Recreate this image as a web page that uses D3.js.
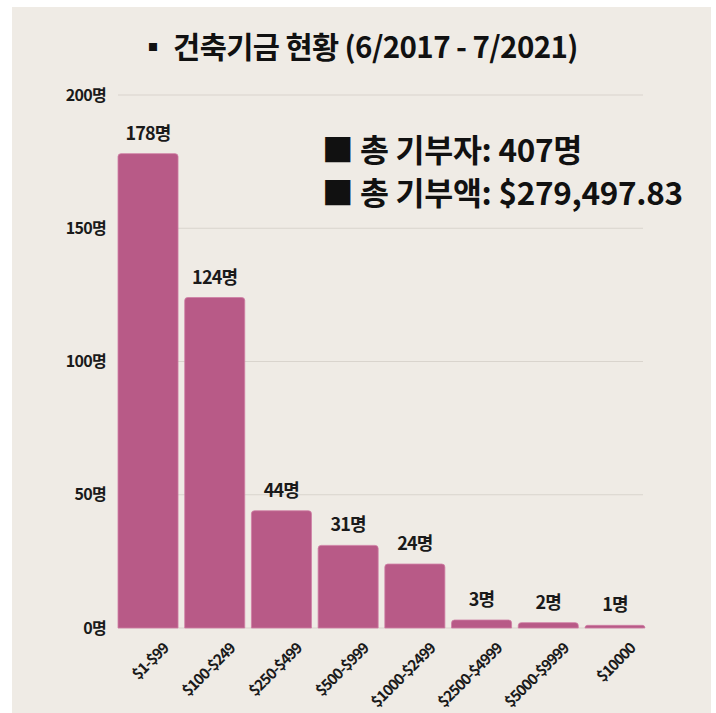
<!DOCTYPE html>
<html>
	<head>
		<meta charset="utf-8">
		<title>건축기금 현황</title>
		<script src="https://d3js.org/d3.v7.min.js" charset="utf-8"></script>
		<style>
			body{
				margin: 0;
				background: white;
				font-family: "Noto Sans CJK KR", "Noto Sans", sans-serif;
				}
		</style>
	</head>
	<body>
		<script>
			// data
			var categories = ["$1-$99", "$100-$249", "$250-$499", "$500-$999", "$1000-$2499", "$2500-$4999", "$5000-$9999", "$10000"];
			var donors = [178, 124, 44, 31, 24, 3, 2, 1];
			var yTicks = [0, 50, 100, 150, 200];
			var summary = ["■ 총 기부자: 407명", "■ 총 기부액: $279,497.83"];
			var title = "▪ 건축기금 현황 (6/2017 - 7/2021)";

			var width = 716;
			var height = 713;
			var barColor = "#b85a87";

			var svg = d3.select("body")
					.append("svg")
					.attr("width", width)
					.attr("height", height);

			// beige panel
			svg.append("rect")
				.attr("x", 12)
				.attr("y", 7)
				.attr("width", 699)
				.attr("height", height - 7)
				.attr("fill", "#efebe5");

			var x = d3.scaleBand()
					.domain(categories)
					.range([116, 647])
					.paddingInner(0.1)
					.paddingOuter(0.03);

			var y = d3.scaleLinear()
					.domain([0, 200])
					.range([628, 95]);

			// gridlines
			svg.append("g")
				.selectAll("line")
				.data(yTicks)
				.enter()
				.append("line")
				.attr("x1", 118)
				.attr("x2", 643)
				.attr("y1", function(d){ return y(d); })
				.attr("y2", function(d){ return y(d); })
				.attr("stroke", "#d9d4cd")
				.attr("stroke-width", 1.2);

			// y axis labels
			var yAxis = d3.axisLeft(y)
					.tickValues(yTicks)
					.tickSize(0)
					.tickPadding(0)
					.tickFormat(function(d){ return d + "명"; });

			var gy = svg.append("g")
					.attr("transform", "translate(106,0)")
					.call(yAxis);
			gy.select(".domain").remove();
			gy.selectAll("text")
				.attr("font-family", "'Noto Sans CJK KR', sans-serif")
				.attr("font-size", 16)
				.attr("font-weight", "bold")
				.attr("fill", "#1a1a1a")
				.attr("letter-spacing", -0.7);

			// bars with rounded tops
			function barPath(d, i){
				var x0 = x(categories[i]);
				var w = x.bandwidth();
				var y0 = y(0);
				var y1 = y(d);
				var r = Math.min(3, (y0 - y1));
				return "M" + x0 + "," + y0 +
					"V" + (y1 + r) +
					"Q" + x0 + "," + y1 + " " + (x0 + r) + "," + y1 +
					"H" + (x0 + w - r) +
					"Q" + (x0 + w) + "," + y1 + " " + (x0 + w) + "," + (y1 + r) +
					"V" + y0 + "Z";
			}

			svg.append("g")
				.selectAll("path")
				.data(donors)
				.enter()
				.append("path")
				.attr("d", barPath)
				.attr("fill", barColor)
				.attr("stroke", "#cf7fa5")
				.attr("stroke-width", 0.8);

			// value labels
			svg.append("g")
				.selectAll("text")
				.data(donors)
				.enter()
				.append("text")
				.attr("x", function(d, i){ return x(categories[i]) + x.bandwidth() / 2; })
				.attr("y", function(d){ return y(d) - 14; })
				.attr("text-anchor", "middle")
				.attr("font-size", 18)
				.attr("font-weight", "bold")
				.attr("fill", "#1a1a1a")
				.attr("letter-spacing", -0.8)
				.text(function(d){ return d + "명"; });

			// x axis labels, rotated
			var xAxis = d3.axisBottom(x)
					.tickSize(0)
					.tickPadding(0);

			var gx = svg.append("g")
					.attr("transform", "translate(0,642)")
					.call(xAxis);
			gx.select(".domain").remove();
			gx.selectAll("text")
				.attr("font-family", "'Noto Sans CJK KR', sans-serif")
				.attr("font-size", 15)
				.attr("font-weight", "bold")
				.attr("fill", "#1a1a1a")
				.attr("letter-spacing", -1)
				.attr("text-anchor", "end")
				.attr("dy", "0.7em")
				.attr("transform", "translate(14,0) rotate(-45)");

			// title
			svg.append("text")
				.attr("x", 358)
				.attr("y", 58)
				.attr("text-anchor", "middle")
				.attr("font-size", 29.5)
				.attr("font-weight", "bold")
				.attr("fill", "#111")
				.attr("letter-spacing", -0.6)
				.text(title);

			// summary block
			svg.append("g")
				.selectAll("text")
				.data(summary)
				.enter()
				.append("text")
				.attr("x", 322)
				.attr("y", function(d, i){ return 162 + i * 43; })
				.attr("font-size", 31.5)
				.attr("font-weight", "bold")
				.attr("fill", "#111")
				.attr("letter-spacing", -0.3)
				.text(function(d){ return d; });
		</script>
	</body>
</html>
